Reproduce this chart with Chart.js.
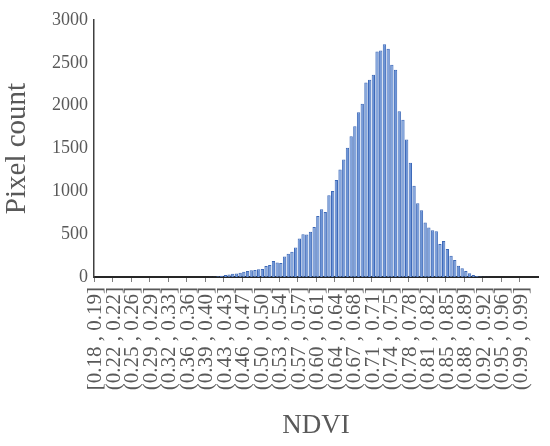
<!DOCTYPE html>
<html>
<head>
<meta charset="utf-8">
<script src="https://cdn.jsdelivr.net/npm/chart.js@4"></script>
<style>
  html, body { margin: 0; padding: 0; background: #fff; }
  #wrap { position: relative; width: 550px; height: 446px; }
</style>
</head>
<body>
<div id="wrap"><canvas id="chart"></canvas></div>
<script>
// Histogram of NDVI, 120 bins (5 bins per labelled group)
const binLabels = [
  "[0.18 , 0.19]", "(0.22 , 0.22]", "(0.25 , 0.26]", "(0.29 , 0.29]",
  "(0.32 , 0.33]", "(0.36 , 0.36]", "(0.39 , 0.40]", "(0.43 , 0.43]",
  "(0.46 , 0.47]", "(0.50 , 0.50]", "(0.53 , 0.54]", "(0.57 , 0.57]",
  "(0.60 , 0.61]", "(0.64 , 0.64]", "(0.67 , 0.68]", "(0.71 , 0.71]",
  "(0.74 , 0.75]", "(0.78 , 0.78]", "(0.81 , 0.82]", "(0.85 , 0.85]",
  "(0.88 , 0.89]", "(0.92 , 0.92]", "(0.95 , 0.96]", "(0.99 , 0.99]"
];
const binsPerLabel = 5;

const pixelCounts = [
  0, 0, 0, 0, 0, 0, 0, 0, 0, 0,
  0, 0, 0, 0, 0, 0, 0, 0, 0, 0,
  0, 0, 0, 0, 0, 0, 0, 0, 0, 0,
  1, 2, 4, 8, 14, 22, 30, 38, 42, 50,
  62, 70, 80, 82, 90, 92, 128, 140, 188, 170,
  162, 238, 272, 295, 345, 450, 498, 496, 527, 585,
  713, 791, 760, 953, 1004, 1131, 1256, 1372, 1508, 1643,
  1760, 1922, 2023, 2271, 2302, 2360, 2631, 2643, 2717, 2663,
  2477, 2419, 1934, 1837, 1605, 1334, 1066, 860, 779, 636,
  578, 547, 535, 384, 419, 326, 248, 198, 132, 101,
  70, 45, 22, 12, 6, 3, 2, 1, 0, 0,
  0, 0, 0, 0, 0, 0, 0, 0, 0, 0
];

const yTicks = [0, 500, 1000, 1500, 2000, 2500, 3000];

const categories = pixelCounts.map((v, i) =>
  i % binsPerLabel === 0 ? binLabels[i / binsPerLabel] : ""
);

const serif = "'Liberation Serif', 'Times New Roman', serif";
const textGray = "#595959";

new Chart(document.getElementById("chart"), {
  type: "bar",
  data: {
    labels: categories,
    datasets: [{
      label: "Pixel count",
      data: pixelCounts,
      backgroundColor: "#6e95d7",
      borderColor: "#3d69b8",
      borderWidth: 1,
      barPercentage: 1,
      categoryPercentage: 0.9
    }]
  },
  options: {
    responsive: true,
    maintainAspectRatio: false,
    animation: false,
    layout: { padding: { top: 20, right: 12, left: 0, bottom: 0 } },
    plugins: {
      legend: { display: false },
      tooltip: { enabled: false }
    },
    scales: {
      x: {
        offset: true,
        afterFit: (scale) => {
          scale.height = 169;
          scale.paddingLeft = 0;
          scale.paddingRight = 0;
        },
        grid: {
          offset: true,
          drawOnChartArea: false,
          drawTicks: true,
          tickLength: 5,
          color: (ctx) => (ctx.index % binsPerLabel === 0 ? "#7f7f7f" : "rgba(0,0,0,0)")
        },
        border: { display: true, color: "#262626", width: 2 },
        ticks: {
          autoSkip: false,
          maxRotation: 90,
          minRotation: 90,
          padding: 5,
          color: textGray,
          font: { family: serif, size: 21 }
        },
        title: {
          display: true,
          text: "NDVI",
          color: textGray,
          font: { family: serif, size: 27 },
          padding: { top: 0, bottom: 4 }
        }
      },
      y: {
        min: 0,
        max: 3000,
        afterFit: (scale) => { scale.width = 94; },
        afterBuildTicks: (scale) => { scale.ticks = yTicks.map((v) => ({ value: v })); },
        grid: { display: false, drawTicks: false },
        border: { display: true, color: "#404040", width: 1.5 },
        ticks: {
          padding: 6,
          color: textGray,
          font: { family: serif, size: 18 },
          callback: (v) => String(v)
        },
        title: {
          display: true,
          text: "Pixel count",
          color: textGray,
          font: { family: serif, size: 29 },
          padding: { top: 0, bottom: 0 }
        }
      }
    }
  }
});
</script>
</body>
</html>
